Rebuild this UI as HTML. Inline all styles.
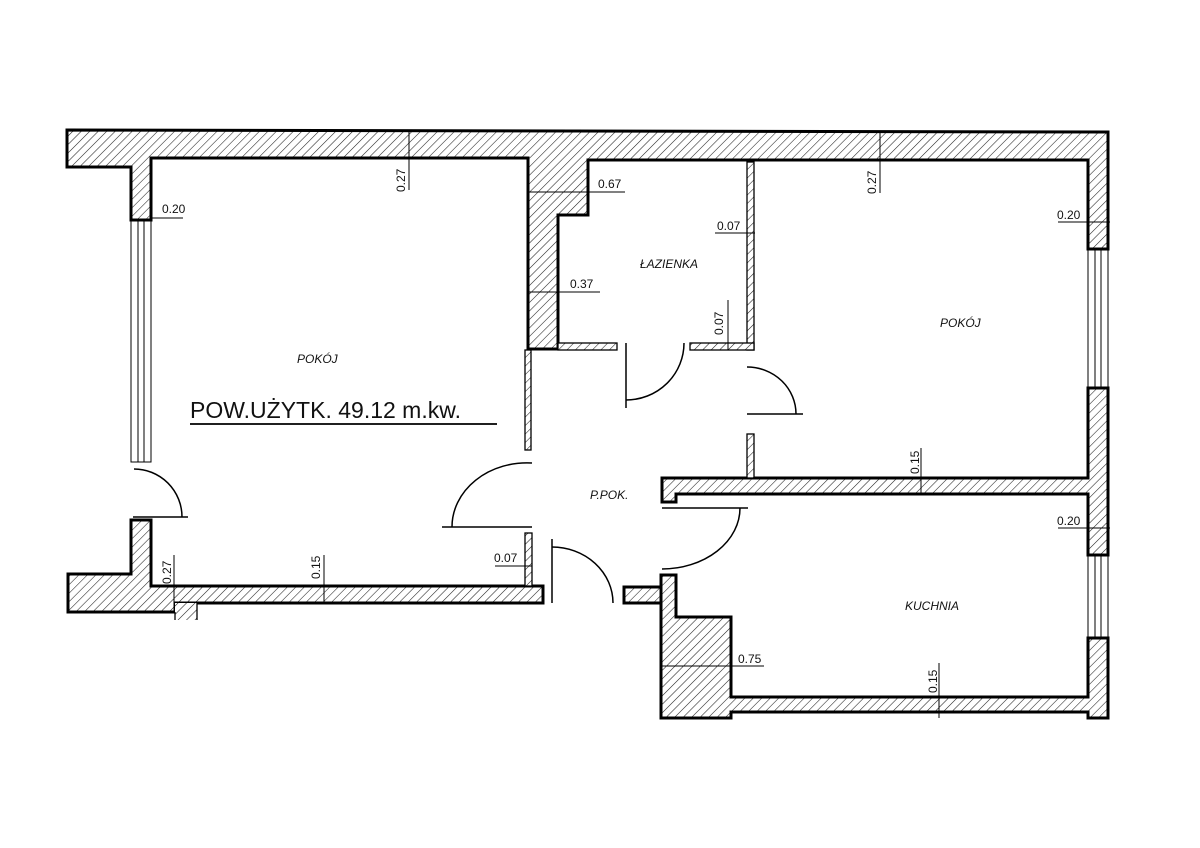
<!DOCTYPE html>
<html><head><meta charset="utf-8"><style>
html,body{margin:0;padding:0;background:#fff;}
svg{display:block;}
text{font-family:"Liberation Sans",sans-serif;fill:#111;}
.d{font-size:12px;}
.r{font-size:12px;font-style:italic;}
</style></head><body>
<svg width="1200" height="848" viewBox="0 0 1200 848" xmlns="http://www.w3.org/2000/svg">
<defs>
<pattern id="h" patternUnits="userSpaceOnUse" width="6" height="6" patternTransform="rotate(45)">
<rect width="6" height="6" fill="#fff"/>
<line x1="0" y1="0" x2="0" y2="6" stroke="#222" stroke-width="1.1"/>
</pattern>
</defs>
<g fill="url(#h)" stroke="#000" stroke-width="3" stroke-linejoin="miter">
<polygon points="67,130 1108,132 1108,249 1088,249 1088,160 588,160 588,215 558,215 558,349 528,349 528,158 151,158 151,220 131,220 131,167 67,167"/>
<polygon points="1088,388 1108,388 1108,555 1088,555 1088,494 676,494 676,502 662,502 662,478 1088,478"/>
<polygon points="1088,638 1108,638 1108,718 1088,718 1088,712 731,712 731,718 661,718 661,575 676,575 676,617 731,617 731,697 1088,697"/>
<polygon points="624,587 661,587 661,603 624,603"/>
<polygon points="68,574 131,574 131,520 151,520 151,586 543,586 543,603 197,603 175,603 175,612 68,612"/>
</g>
<g fill="url(#h)" stroke="#000" stroke-width="1.3">
<rect x="175" y="603" width="22" height="17" stroke="none"/>
<line x1="175" y1="612" x2="175" y2="620"/><line x1="197" y1="603" x2="197" y2="620"/>
<rect x="747" y="162" width="7" height="188"/>
<rect x="558" y="343" width="59" height="7"/>
<rect x="690" y="343" width="64" height="7"/>
<rect x="747" y="434" width="7" height="44"/>
<rect x="525" y="350" width="6" height="100"/>
<rect x="525" y="533" width="7" height="53"/>
</g>
<g fill="none" stroke="#000" stroke-width="1">
<rect x="131" y="220" width="20" height="242"/><line x1="138" y1="220" x2="138" y2="462"/><line x1="144" y1="220" x2="144" y2="462"/>
<rect x="1088" y="249" width="20" height="139"/><line x1="1095" y1="249" x2="1095" y2="388"/><line x1="1101" y1="249" x2="1101" y2="388"/>
<rect x="1088" y="555" width="20" height="83"/><line x1="1095" y1="555" x2="1095" y2="638"/><line x1="1101" y1="555" x2="1101" y2="638"/>
</g>
<g fill="none" stroke="#000" stroke-width="1.5">
<path d="M134,469 A48,48 0 0 1 182,517"/><line x1="133" y1="517" x2="188" y2="517"/>
<path d="M532,463 A75,64 0 0 0 452,527"/><line x1="442" y1="527" x2="532" y2="527"/>
<path d="M552,547 A61,56 0 0 1 613,603"/><line x1="552" y1="539" x2="552" y2="603"/>
<path d="M626,400 A58,57 0 0 0 684,343"/><line x1="626" y1="343" x2="626" y2="408"/>
<path d="M747,367 A49,47 0 0 1 796,414"/><line x1="747" y1="414" x2="803" y2="414"/>
<path d="M740,508 A78,61 0 0 1 662,569"/><line x1="662" y1="508" x2="748" y2="508"/>
</g>
<g stroke="#000" stroke-width="1" fill="none">
<line x1="150" y1="218" x2="183" y2="218"/>
<line x1="409" y1="131" x2="409" y2="190"/>
<line x1="528" y1="192" x2="625" y2="192"/>
<line x1="528" y1="292" x2="600" y2="292"/>
<line x1="715" y1="233" x2="755" y2="233"/>
<line x1="728" y1="300" x2="728" y2="350"/>
<line x1="880" y1="133" x2="880" y2="193"/>
<line x1="1058" y1="222" x2="1110" y2="222"/>
<line x1="921" y1="448" x2="921" y2="494"/>
<line x1="1058" y1="528" x2="1110" y2="528"/>
<line x1="661" y1="666" x2="764" y2="666"/>
<line x1="939" y1="663" x2="939" y2="718"/>
<line x1="174" y1="555" x2="174" y2="612"/>
<line x1="324" y1="555" x2="324" y2="603"/>
<line x1="495" y1="566" x2="532" y2="566"/>
<line x1="190" y1="424" x2="497" y2="424" stroke-width="1.8"/>
</g>
<g class="d">
<text x="162" y="213">0.20</text>
<text x="405" y="192" transform="rotate(-90 405 192)">0.27</text>
<text x="598" y="188">0.67</text>
<text x="570" y="288">0.37</text>
<text x="717" y="230">0.07</text>
<text x="723" y="335" transform="rotate(-90 723 335)">0.07</text>
<text x="876" y="194" transform="rotate(-90 876 194)">0.27</text>
<text x="1057" y="219">0.20</text>
<text x="919" y="474" transform="rotate(-90 919 474)">0.15</text>
<text x="1057" y="525">0.20</text>
<text x="738" y="663">0.75</text>
<text x="937" y="693" transform="rotate(-90 937 693)">0.15</text>
<text x="171" y="584" transform="rotate(-90 171 584)">0.27</text>
<text x="320" y="579" transform="rotate(-90 320 579)">0.15</text>
<text x="494" y="562">0.07</text>
</g>
<g class="r">
<text x="640" y="268">ŁAZIENKA</text>
<text x="297" y="363">POKÓJ</text>
<text x="940" y="327">POKÓJ</text>
<text x="590" y="499">P.POK.</text>
<text x="905" y="610">KUCHNIA</text>
</g>
<text x="190" y="418" style="font-size:23px">POW.UŻYTK. 49.12 m.kw.</text>
</svg>
</body></html>
